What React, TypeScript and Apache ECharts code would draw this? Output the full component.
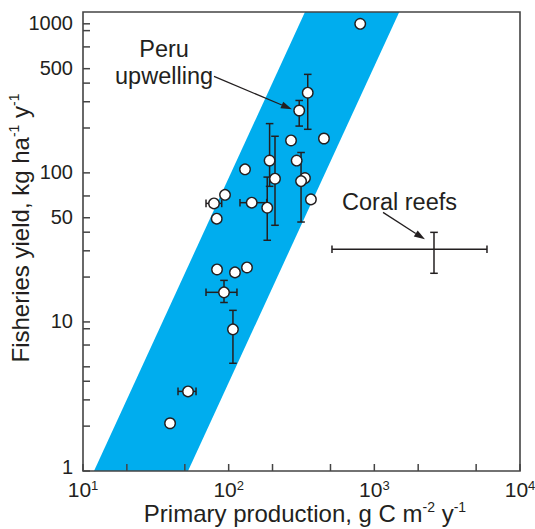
import React, { useEffect, useRef } from 'react';
import * as echarts from 'echarts';

// Axis ticks and labels
const xTickValues = [10, 20, 50, 100, 200, 500, 1000, 2000, 5000, 10000];
const xLabelExponents = [1, 2, 3, 4];
const yTickValues = [1, 2, 3, 4, 5, 7, 9, 10, 20, 30, 40, 50, 70, 100, 200, 300, 400, 500, 700, 900, 1000];
const yLabelValues = [1, 10, 50, 100, 500, 1000];

// Data points: primary production (x) vs fisheries yield (y)
const pointX = [800, 305, 349, 268, 451, 191, 208, 184, 129.5, 293, 334, 314, 367, 94.4, 79.3, 82.8, 144, 83.2, 110.5, 133.6, 92.9, 107, 52.6, 39.6];
const pointY = [1000, 262, 345, 165, 170, 121, 91.4, 58.4, 105.6, 121, 92.3, 88.1, 66.4, 71.2, 62.4, 49.3, 63.1, 22.5, 21.5, 23.2, 15.8, 8.92, 3.42, 2.09];

// Vertical error bars: [x, y, low, high]
const verticalErrors = [
  [305, 262, 206, 306],
  [349, 345, 196, 458],
  [191, 121, 81.2, 214],
  [208, 91.4, 44.5, 176],
  [184, 58.4, 35.3, 93.7],
  [314, 88.1, 46.8, 137],
  [92.9, 15.8, 13.5, 19.0],
  [107, 8.92, 5.28, 11.96],
];

// Horizontal error bars: [x, y, low, high]
const horizontalErrors = [
  [79.3, 62.4, 69.9, 89.6],
  [144, 63.1, 119.6, 182.4],
  [92.9, 15.8, 69.9, 114],
  [52.6, 3.42, 44.9, 59.7],
];

// Coral reefs range (cross without marker)
const coralCenter = [2568, 30.7];
const coralXRange = [512, 5934];
const coralYRange = [21.2, 39.9];

// Shaded band corners (data coordinates)
const bandCorners = [
  [11.9, 1],
  [52.6, 1],
  [1483, 1200],
  [334, 1200],
];

// Annotations (data coordinates)
const annotationTexts = ['Peru\nupwelling', 'Coral reefs'];
const annotationTextAt = [
  [36, 551],
  [1489, 63.4],
];
const annotationArrows = [
  [79.3, 444, 272, 267],
  [1147, 54.3, 2227, 35.8],
];

const INK = '#231f20';
const AXIS = '#444444';
const BAND = '#00adee';
const FONT = '"Liberation Sans", Arial, Helvetica, sans-serif';

export default function App() {
  const ref = useRef<HTMLDivElement>(null);

  useEffect(() => {
    if (!ref.current) return;
    const chart = echarts.init(ref.current, undefined, { renderer: 'svg' });

    const allV = verticalErrors.concat([[coralCenter[0], coralCenter[1], coralYRange[0], coralYRange[1]]]);
    const allH = horizontalErrors.concat([[coralCenter[0], coralCenter[1], coralXRange[0], coralXRange[1]]]);
    const cap = 3.8;
    const lineStyle = { stroke: INK, lineWidth: 1.5 };

    const option: any = {
      animation: false,
      grid: {
        left: 83,
        top: 12,
        width: 437,
        height: 459,
        show: true,
        borderColor: AXIS,
        borderWidth: 1.6,
        backgroundColor: 'transparent',
        z: 10,
      },
      xAxis: {
        type: 'log',
        logBase: 10,
        min: 10,
        max: 10000,
        axisLine: { show: false },
        axisTick: { show: false },
        axisLabel: { show: false },
        splitLine: { show: false },
      },
      yAxis: {
        type: 'log',
        logBase: 10,
        min: 1,
        max: 1200,
        axisLine: { show: false },
        axisTick: { show: false },
        axisLabel: { show: false },
        splitLine: { show: false },
      },
      graphic: [
        {
          type: 'text',
          x: 20,
          y: 228,
          rotation: Math.PI / 2,
          style: {
            text: 'Fisheries yield, kg ha{sup|-1} y{sup|-1}',
            fontSize: 24,
            lineHeight: 26,
            fontFamily: FONT,
            fill: INK,
            align: 'center',
            verticalAlign: 'middle',
            rich: {
              sup: { fontSize: 14, lineHeight: 14, verticalAlign: 'top', fontFamily: FONT, fill: INK },
            },
          },
        },
        {
          type: 'text',
          x: 305,
          y: 513,
          style: {
            text: 'Primary production, g C m{sup|-2} y{sup|-1}',
            fontSize: 24,
            lineHeight: 26,
            fontFamily: FONT,
            fill: INK,
            align: 'center',
            verticalAlign: 'middle',
            rich: {
              sup: { fontSize: 14, lineHeight: 14, verticalAlign: 'top', fontFamily: FONT, fill: INK },
            },
          },
        },
      ],
      series: [
        {
          name: 'band',
          type: 'custom',
          z: 1,
          data: [[bandCorners[0][0], bandCorners[0][1]]],
          encode: { x: 0, y: 1 },
          renderItem: (_p: any, api: any) => ({
            type: 'polygon',
            shape: { points: bandCorners.map((c) => api.coord(c)) },
            style: { fill: BAND, stroke: 'none' },
          }),
        },
        {
          name: 'vErr',
          type: 'custom',
          z: 3,
          data: allV,
          encode: { x: 0, y: 1 },
          renderItem: (_p: any, api: any) => {
            const x = api.value(0);
            const a = api.coord([x, api.value(2)]);
            const b = api.coord([x, api.value(3)]);
            return {
              type: 'group',
              children: [
                { type: 'line', shape: { x1: a[0], y1: a[1], x2: b[0], y2: b[1] }, style: lineStyle },
                { type: 'line', shape: { x1: a[0] - cap, y1: a[1], x2: a[0] + cap, y2: a[1] }, style: lineStyle },
                { type: 'line', shape: { x1: b[0] - cap, y1: b[1], x2: b[0] + cap, y2: b[1] }, style: lineStyle },
              ],
            };
          },
        },
        {
          name: 'hErr',
          type: 'custom',
          z: 3,
          data: allH,
          encode: { x: 0, y: 1 },
          renderItem: (_p: any, api: any) => {
            const y = api.value(1);
            const a = api.coord([api.value(2), y]);
            const b = api.coord([api.value(3), y]);
            return {
              type: 'group',
              children: [
                { type: 'line', shape: { x1: a[0], y1: a[1], x2: b[0], y2: b[1] }, style: lineStyle },
                { type: 'line', shape: { x1: a[0], y1: a[1] - cap, x2: a[0], y2: a[1] + cap }, style: lineStyle },
                { type: 'line', shape: { x1: b[0], y1: b[1] - cap, x2: b[0], y2: b[1] + cap }, style: lineStyle },
              ],
            };
          },
        },
        {
          name: 'points',
          type: 'scatter',
          z: 5,
          symbol: 'circle',
          symbolSize: 10.5,
          data: pointX.map((x, i) => [x, pointY[i]]),
          itemStyle: { color: '#ffffff', borderColor: INK, borderWidth: 1.4, opacity: 1 },
        },
        {
          name: 'yTicks',
          type: 'custom',
          z: 6,
          data: yTickValues.map((v) => [10, v]),
          encode: { x: 0, y: 1 },
          renderItem: (_p: any, api: any) => {
            const p = api.coord([api.value(0), api.value(1)]);
            return { type: 'line', shape: { x1: p[0], y1: p[1], x2: p[0] + 7, y2: p[1] }, style: { stroke: AXIS, lineWidth: 1.5 } };
          },
        },
        {
          name: 'xTicks',
          type: 'custom',
          z: 6,
          data: xTickValues.map((v) => [v, 1]),
          encode: { x: 0, y: 1 },
          renderItem: (_p: any, api: any) => {
            const p = api.coord([api.value(0), api.value(1)]);
            return { type: 'line', shape: { x1: p[0], y1: p[1], x2: p[0], y2: p[1] - 7 }, style: { stroke: AXIS, lineWidth: 1.5 } };
          },
        },
        {
          name: 'yLabels',
          type: 'custom',
          z: 6,
          data: yLabelValues.map((v) => [10, v]),
          encode: { x: 0, y: 1 },
          renderItem: (params: any, api: any) => {
            const p = api.coord([api.value(0), api.value(1)]);
            const lift = params.dataIndex === 0 ? 4 : 1;
            return {
              type: 'text',
              x: p[0] - 10,
              y: p[1] - lift,
              style: {
                text: String(api.value(1)),
                fontSize: 20,
                lineHeight: 18,
                fontFamily: FONT,
                fill: INK,
                align: 'right',
                verticalAlign: 'middle',
              },
            };
          },
        },
        {
          name: 'xLabels',
          type: 'custom',
          z: 6,
          data: xLabelExponents.map((e) => [Math.pow(10, e), 1, e]),
          encode: { x: 0, y: 1 },
          renderItem: (_p: any, api: any) => {
            const p = api.coord([api.value(0), api.value(1)]);
            return {
              type: 'text',
              x: p[0],
              y: p[1] + 8,
              style: {
                text: '10{sup|' + api.value(2) + '}',
                fontSize: 21,
                lineHeight: 20,
                fontFamily: FONT,
                fill: INK,
                align: 'center',
                verticalAlign: 'top',
                rich: { sup: { fontSize: 13, lineHeight: 12, verticalAlign: 'top', fontFamily: FONT, fill: INK } },
              },
            };
          },
        },
        {
          name: 'annotationText',
          type: 'custom',
          z: 6,
          data: annotationTextAt.map((c, i) => [c[0], c[1], i]),
          encode: { x: 0, y: 1 },
          renderItem: (_p: any, api: any) => {
            const p = api.coord([api.value(0), api.value(1)]);
            return {
              type: 'text',
              x: p[0],
              y: p[1],
              style: {
                text: annotationTexts[api.value(2)],
                fontSize: 23.5,
                lineHeight: 27,
                fontFamily: FONT,
                fill: INK,
                align: 'center',
                verticalAlign: 'middle',
              },
            };
          },
        },
        {
          name: 'annotationArrows',
          type: 'custom',
          z: 6,
          data: annotationArrows,
          encode: { x: 0, y: 1 },
          renderItem: (_p: any, api: any) => {
            const a = api.coord([api.value(0), api.value(1)]);
            const b = api.coord([api.value(2), api.value(3)]);
            const dx = b[0] - a[0];
            const dy = b[1] - a[1];
            const len = Math.sqrt(dx * dx + dy * dy);
            const ux = dx / len;
            const uy = dy / len;
            const L = 11;
            const W = 3.6;
            const bx = b[0] - ux * L;
            const by = b[1] - uy * L;
            return {
              type: 'group',
              children: [
                { type: 'line', shape: { x1: a[0], y1: a[1], x2: bx, y2: by }, style: { stroke: INK, lineWidth: 1.3 } },
                {
                  type: 'polygon',
                  shape: { points: [[b[0], b[1]], [bx - uy * W, by + ux * W], [bx + uy * W, by - ux * W]] },
                  style: { fill: INK, stroke: 'none' },
                },
              ],
            };
          },
        },
      ],
    };

    chart.setOption(option);
    return () => chart.dispose();
  }, []);

  return (
    <div
      ref={ref}
      style={{ position: 'absolute', left: 0, top: 0, width: 535, height: 529, background: '#ffffff' }}
    />
  );
}
